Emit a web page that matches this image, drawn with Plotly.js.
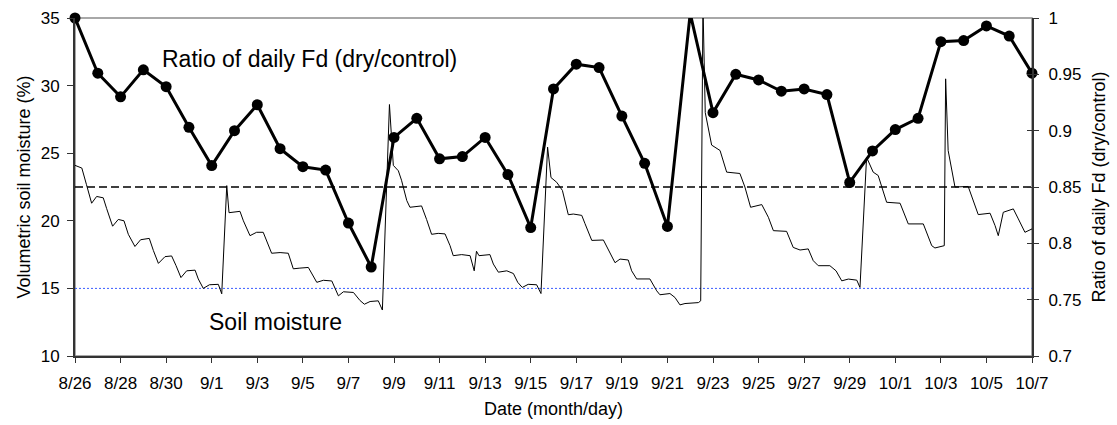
<!DOCTYPE html>
<html>
<head>
<meta charset="utf-8">
<script src="https://cdn.plot.ly/plotly-3.0.1.min.js"></script>
<style>
  html, body { margin: 0; padding: 0; background: #fff; }
  #chart { width: 1117px; height: 425px; }
</style>
</head>
<body>
<div id="chart"></div>
<script>
// ---- Data ----
const startDate = '2003-08-26';          // first day on the axis (8/26)
const endDate = '2003-10-07';            // last day on the axis (10/7)

// Daily ratio of Fd (dry/control), one value per day from 8/26 to 10/7
const ratioValues = [
  1.000, 0.951, 0.930, 0.954, 0.939, 0.903, 0.869, 0.900, 0.923, 0.884,
  0.868, 0.865, 0.818, 0.779, 0.894, 0.911, 0.875, 0.877, 0.894, 0.861,
  0.814, 0.937, 0.959, 0.956, 0.913, 0.871, 0.815, 1.004, 0.916, 0.950,
  0.945, 0.935, 0.937, 0.932, 0.854, 0.882, 0.901, 0.911, 0.979, 0.980,
  0.993, 0.984, 0.951
];

// Soil moisture readings: time in days since 8/26 00:00, value in %
const soilDays = [
  0.00, 0.30, 0.50, 0.73, 0.95, 1.24, 1.39, 1.65, 1.90, 2.15,
  2.34, 2.63, 2.88, 3.26, 3.44, 3.66, 3.95, 4.24, 4.43, 4.65,
  4.90, 5.27, 5.41, 5.63, 5.90, 6.29, 6.44, 6.66, 6.76, 7.24,
  7.39, 7.68, 7.97, 8.26, 8.63, 9.00, 9.36, 9.58, 9.87, 10.24,
  10.61, 10.90, 11.27, 11.56, 11.78, 12.22, 12.51, 12.70, 12.95, 13.31,
  13.49, 13.80, 13.97, 14.19, 14.33, 14.56, 14.70, 15.21, 15.43, 15.65,
  15.94, 16.24, 16.46, 16.60, 16.97, 17.34, 17.52, 17.62, 17.73, 18.21,
  18.36, 18.58, 18.95, 19.24, 19.43, 19.63, 19.89, 20.26, 20.45, 20.74,
  20.89, 21.14, 21.39, 21.65, 21.87, 22.24, 22.38, 22.68, 23.19, 23.41,
  23.70, 23.92, 24.28, 24.43, 24.65, 25.23, 25.53, 25.67, 26.11, 26.33,
  26.55, 26.77, 27.36, 27.46, 27.56, 27.66, 27.94, 28.31, 28.60, 29.18,
  29.40, 29.65, 30.14, 30.43, 30.65, 31.23, 31.52, 31.82, 32.18, 32.40,
  32.62, 33.13, 33.40, 33.65, 33.94, 34.31, 34.45, 34.74, 35.03, 35.25,
  35.62, 36.21, 36.57, 37.23, 37.60, 37.74, 38.15, 38.21, 38.32, 38.62,
  39.20, 39.64, 40.16, 40.38, 40.52, 40.74, 41.18, 41.40, 41.69, 42.00
];
const soilValues = [
  24.1, 23.9, 22.7, 21.3, 21.8, 21.7, 20.9, 19.6, 20.1, 20.0,
  19.0, 18.1, 18.6, 18.7, 17.8, 16.85, 17.35, 17.4, 16.7, 15.8,
  16.3, 16.35, 15.7, 15.0, 15.27, 15.3, 14.6, 22.6, 20.6, 20.7,
  20.0, 18.9, 19.15, 19.15, 17.6, 17.65, 17.6, 16.45, 16.5, 16.55,
  15.45, 15.6, 15.55, 14.45, 14.75, 14.7, 14.1, 13.83, 14.03, 14.08,
  13.4, 28.6, 24.1, 23.7, 23.0, 21.5, 21.0, 21.1, 20.1, 19.0,
  19.07, 19.03, 18.16, 17.42, 17.5, 17.42, 16.3, 17.75, 17.42, 17.5,
  16.8, 16.2, 16.3, 16.1, 15.45, 15.07, 15.3, 15.27, 14.62, 25.45,
  23.2, 22.85, 22.25, 20.45, 20.5, 20.4, 19.8, 18.55, 18.58, 17.8,
  16.9, 17.17, 17.1, 16.3, 15.7, 15.7, 14.82, 14.53, 14.62, 14.33,
  13.78, 13.88, 13.95, 14.08, 36.0, 28.0, 25.6, 25.2, 23.6, 23.5,
  22.5, 21.0, 21.2, 20.26, 19.27, 19.22, 18.03, 17.84, 17.92, 17.05,
  16.68, 16.68, 16.3, 15.56, 15.69, 15.61, 15.07, 24.7, 23.6, 23.35,
  21.37, 21.3, 19.77, 19.77, 18.16, 17.99, 18.16, 30.5, 25.2, 22.5,
  22.54, 20.46, 20.56, 19.64, 18.9, 20.63, 20.88, 20.14, 19.15, 19.4
];

// Reference lines
const ratioReference = 0.85;   // dashed line (right axis)
const soilReference = 15;      // blue dotted line (left axis)

// Axis ranges and labels
const soilRange = [10, 35];
const ratioRange = [0.7, 1.0];
const xTitle = 'Date (month/day)';
const yTitle = 'Volumetric soil moisture (%)';
const y2Title = 'Ratio of daily Fd (dry/control)';
const ratioLabel = 'Ratio of daily Fd (dry/control)';
const soilLabel = 'Soil moisture';

// ---- Helpers ----
const DAY = 86400000;
const t0 = Date.parse(startDate + 'T00:00:00Z');
function dayToDate(d) {
  return new Date(t0 + Math.round(d * DAY)).toISOString().replace('T', ' ').slice(0, 19);
}

const ratioDates = ratioValues.map((_, i) => dayToDate(i));
const soilDates = soilDays.map(dayToDate);

// Points above the axis maximum are drawn by the line only (clipped marker)
const markerIdx = ratioValues.map((v, i) => i).filter(i => ratioValues[i] <= ratioRange[1] + 1e-9);

const FONT = 'Liberation Sans, Arial, Helvetica, sans-serif';

const traces = [
  {
    x: soilDates, y: soilValues, type: 'scatter', mode: 'lines',
    line: { color: '#000', width: 1 }, yaxis: 'y', hoverinfo: 'skip', showlegend: false
  },
  {
    x: ratioDates, y: ratioValues, type: 'scatter', mode: 'lines',
    line: { color: '#000', width: 3 }, yaxis: 'y2', showlegend: false
  },
  {
    x: markerIdx.map(i => ratioDates[i]), y: markerIdx.map(i => ratioValues[i]),
    type: 'scatter', mode: 'markers', cliponaxis: false,
    marker: { color: '#000', size: 11, symbol: 'circle' }, yaxis: 'y2', showlegend: false
  },
  {
    // invisible helper trace so the inner half of the right-axis ticks is drawn
    x: [ratioDates[0]], y: [ratioRange[0]], type: 'scatter', mode: 'markers',
    marker: { opacity: 0 }, yaxis: 'y3', hoverinfo: 'skip', showlegend: false
  }
];

const layout = {
  width: 1117, height: 425,
  margin: { l: 75, r: 85, t: 18, b: 69, pad: 0 },
  paper_bgcolor: '#fff', plot_bgcolor: '#fff',
  font: { family: FONT, size: 17, color: '#000' },
  showlegend: false,
  xaxis: {
    type: 'date', range: [startDate, endDate],
    tick0: startDate, dtick: 2 * DAY, tickformat: '%-m/%-d',
    ticks: 'outside', ticklen: 5, tickwidth: 1, tickcolor: '#333',
    showline: true, linecolor: '#333', linewidth: 2, showgrid: false, zeroline: false,
    tickfont: { family: FONT, size: 17, color: '#000' },
    ticklabelstandoff: 6,
    title: { text: xTitle, font: { family: FONT, size: 18, color: '#000' }, standoff: 10 },
    automargin: false
  },
  yaxis: {
    range: soilRange, dtick: 5, tick0: 10,
    ticks: 'outside', ticklen: 6, tickwidth: 1, tickcolor: '#333',
    showline: true, linecolor: '#333', linewidth: 2, showgrid: false, zeroline: false,
    tickfont: { family: FONT, size: 17, color: '#000' },
    ticklabelstandoff: 4,
    title: { text: yTitle, font: { family: FONT, size: 18, color: '#000' }, standoff: 5 },
    automargin: false
  },
  yaxis2: {
    overlaying: 'y', side: 'right', range: ratioRange, dtick: 0.05, tick0: 0.7,
    ticks: 'outside', ticklen: 5, tickwidth: 1, tickcolor: '#333',
    showline: true, linecolor: '#333', linewidth: 2, showgrid: false, zeroline: false,
    tickfont: { family: FONT, size: 17, color: '#000' },
    ticklabelstandoff: 6,
    title: { text: y2Title, font: { family: FONT, size: 18, color: '#000' }, standoff: 12 },
    automargin: false
  },
  yaxis3: {
    overlaying: 'y', side: 'right', range: ratioRange, dtick: 0.05, tick0: 0.7,
    ticks: 'inside', ticklen: 5, tickwidth: 1, tickcolor: '#333',
    showline: false, showgrid: false, zeroline: false, showticklabels: false,
    automargin: false
  },
  shapes: [
    { type: 'rect', xref: 'paper', yref: 'paper', x0: 0, x1: 1, y0: 0, y1: 1,
      line: { color: '#8c8c8c', width: 1.5 }, layer: 'below' },
    { type: 'line', xref: 'paper', yref: 'y2', x0: 0, x1: 1, y0: ratioReference, y1: ratioReference,
      line: { color: '#000', width: 1.5, dash: '8px,4px' }, layer: 'below' },
    { type: 'line', xref: 'paper', yref: 'y', x0: 0, x1: 1, y0: soilReference, y1: soilReference,
      line: { color: '#3a5cff', width: 1, dash: '2px,2px' }, layer: 'below' }
  ],
  annotations: [
    { text: ratioLabel, xref: 'paper', yref: 'paper', x: 0.0888, y: 0.88,
      xanchor: 'left', yanchor: 'middle', showarrow: false,
      font: { family: FONT, size: 23, color: '#000' } },
    { text: soilLabel, xref: 'paper', yref: 'paper', x: 0.1376, y: 0.10,
      xanchor: 'left', yanchor: 'middle', showarrow: false,
      font: { family: FONT, size: 23, color: '#000' } }
  ]
};

Plotly.newPlot('chart', traces, layout, { staticPlot: true, displayModeBar: false });
</script>
</body>
</html>
